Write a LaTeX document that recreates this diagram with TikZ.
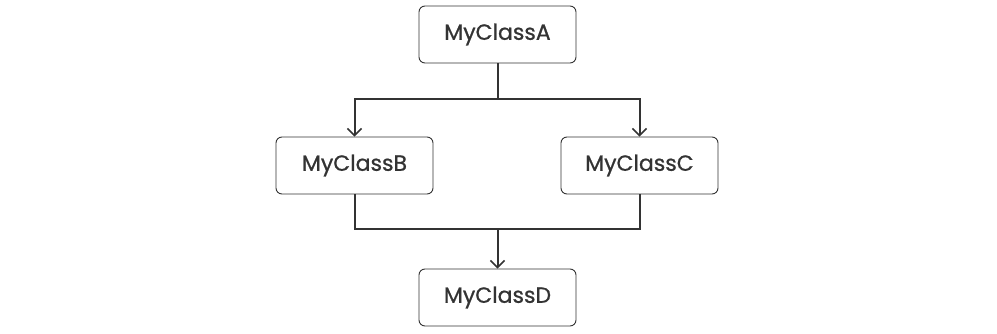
\documentclass[tikz,border=0pt]{standalone}
\usepackage{fontspec}
\newfontfamily\labelfont{Poppins}[BoldFont=*, BoldFeatures={FakeBold=0.8}]
\usetikzlibrary{arrows.meta}
\definecolor{ink}{HTML}{333333}
\begin{document}
\begin{tikzpicture}[x=1pt,y=-1pt,
  classbox/.style={draw=ink, line width=0.9pt, rounded corners=6pt, fill=white,
    minimum width=157pt, minimum height=57pt, text=ink,
    font=\labelfont\bfseries\fontsize{22}{24}\selectfont},
  link/.style={draw=ink, line width=2pt},
  arrowlink/.style={link, -{Straight Barb[length=7pt,width=14pt,line width=1.6pt]}}]
\useasboundingbox (0,0) rectangle (997,334);
\node[classbox] (A) at (497.5,34.5) {MyClassA};
\node[classbox] (B) at (354.5,165.5) {MyClassB};
\node[classbox] (C) at (639.5,165.5) {MyClassC};
\node[classbox] (D) at (497.5,297.5) {MyClassD};
\coordinate (split) at (497.5,99);
\coordinate (join) at (497.5,229);
\draw[link] (A.south) -- (split);
\draw[arrowlink] (split) -| (B.north);
\draw[arrowlink] (split) -| (C.north);
\draw[link] (B.south) |- (join);
\draw[link] (C.south) |- (join);
\draw[arrowlink] (join) -- (D.north);
\end{tikzpicture}
\end{document}
